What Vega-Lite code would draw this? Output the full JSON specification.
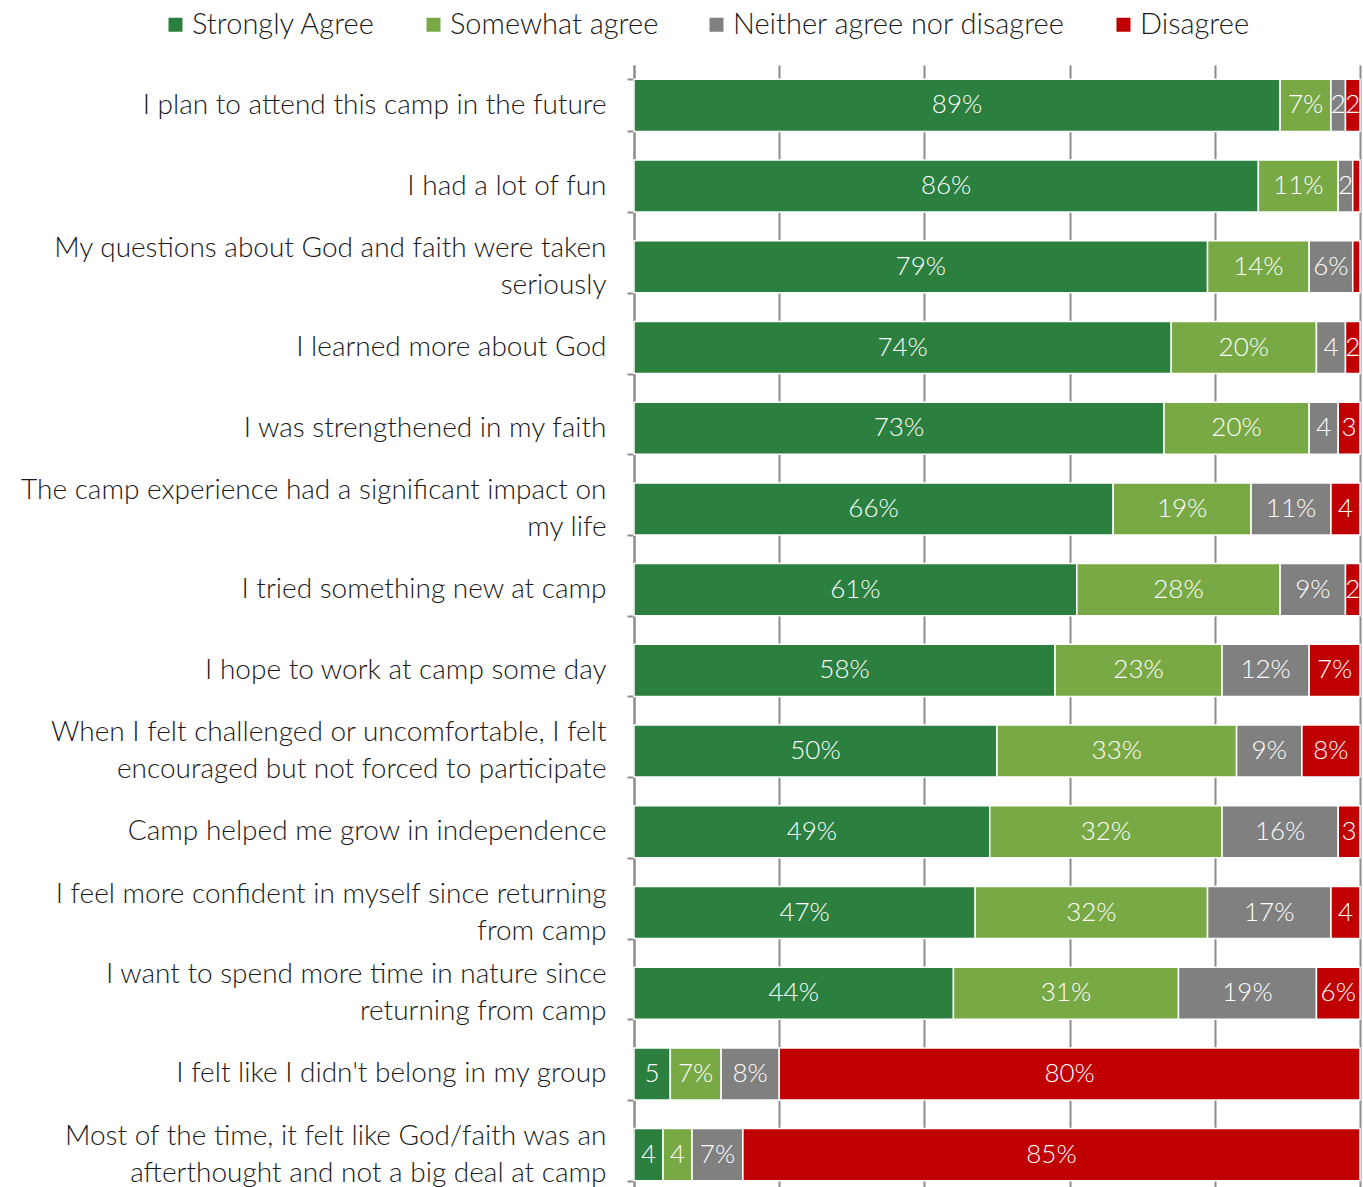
{
  "$schema": "https://vega.github.io/schema/vega-lite/v6.json",
  "width": 726,
  "height": 1130,
  "autosize": {"type": "none"},
  "padding": {"left": 634, "top": 65, "right": 3, "bottom": 0},
  "background": "white",
  "config": {"font": "Lato", "view": {"stroke": null}},
  "data": {
    "values": [
      {"statement": "I plan to attend this camp in the future", "Strongly Agree": 89, "Somewhat agree": 7, "Neither agree nor disagree": 2, "Disagree": 2},
      {"statement": "I had a lot of fun", "Strongly Agree": 86, "Somewhat agree": 11, "Neither agree nor disagree": 2, "Disagree": 1},
      {"statement": "My questions about God and faith were taken\nseriously", "Strongly Agree": 79, "Somewhat agree": 14, "Neither agree nor disagree": 6, "Disagree": 1},
      {"statement": "I learned more about God", "Strongly Agree": 74, "Somewhat agree": 20, "Neither agree nor disagree": 4, "Disagree": 2},
      {"statement": "I was strengthened in my faith", "Strongly Agree": 73, "Somewhat agree": 20, "Neither agree nor disagree": 4, "Disagree": 3},
      {"statement": "The camp experience had a significant impact on\nmy life", "Strongly Agree": 66, "Somewhat agree": 19, "Neither agree nor disagree": 11, "Disagree": 4},
      {"statement": "I tried something new at camp", "Strongly Agree": 61, "Somewhat agree": 28, "Neither agree nor disagree": 9, "Disagree": 2},
      {"statement": "I hope to work at camp some day", "Strongly Agree": 58, "Somewhat agree": 23, "Neither agree nor disagree": 12, "Disagree": 7},
      {"statement": "When I felt challenged or uncomfortable, I felt\nencouraged but not forced to participate", "Strongly Agree": 50, "Somewhat agree": 33, "Neither agree nor disagree": 9, "Disagree": 8},
      {"statement": "Camp helped me grow in independence", "Strongly Agree": 49, "Somewhat agree": 32, "Neither agree nor disagree": 16, "Disagree": 3},
      {"statement": "I feel more confident in myself since returning\nfrom camp", "Strongly Agree": 47, "Somewhat agree": 32, "Neither agree nor disagree": 17, "Disagree": 4},
      {"statement": "I want to spend more time in nature since\nreturning from camp", "Strongly Agree": 44, "Somewhat agree": 31, "Neither agree nor disagree": 19, "Disagree": 6},
      {"statement": "I felt like I didn't belong in my group", "Strongly Agree": 5, "Somewhat agree": 7, "Neither agree nor disagree": 8, "Disagree": 80},
      {"statement": "Most of the time, it felt like God/faith was an\nafterthought and not a big deal at camp", "Strongly Agree": 4, "Somewhat agree": 4, "Neither agree nor disagree": 7, "Disagree": 85}
    ]
  },
  "transform": [
    {"fold": ["Strongly Agree", "Somewhat agree", "Neither agree nor disagree", "Disagree"], "as": ["response", "v"]},
    {"stack": "v", "groupby": ["statement"], "sort": [{"field": "response", "order": "descending"}], "as": ["x0", "x1"]},
    {"calculate": "(datum.x0 + datum.x1) / 2", "as": "mid"},
    {"calculate": "datum.v >= 6 ? datum.v + '%' : (datum.v >= 2 ? '' + datum.v : '')", "as": "lbl"}
  ],
  "encoding": {
    "y": {
      "field": "statement",
      "type": "nominal",
      "sort": null,
      "title": null,
      "scale": {"paddingInner": 0.355, "paddingOuter": 0.1775},
      "axis": {
        "labelExpr": "split(datum.label, '\\n')",
        "labelFontSize": 28,
        "labelFontWeight": 300,
        "labelColor": "#1a1a1a",
        "labelLineHeight": 37,
        "labelOffset": {"condition": {"test": "indexof(datum.label, '\\n') >= 0", "value": -18.5}, "value": 0},
        "labelLimit": 700,
        "labelPadding": 21,
        "tickBand": "extent",
        "tickSize": 7,
        "tickColor": "#8c8c8c",
        "tickWidth": 2,
        "domainColor": "#8c8c8c",
        "domainWidth": 2
      }
    }
  },
  "layer": [
    {
      "mark": {"type": "bar", "stroke": "white", "strokeWidth": 1.5},
      "encoding": {
        "x": {
          "field": "x0",
          "type": "quantitative",
          "scale": {"domain": [0, 100]},
          "title": null,
          "axis": {"labels": false, "ticks": false, "domain": false, "grid": true, "values": [0, 20, 40, 60, 80, 100], "gridColor": "#8c8c8c", "gridWidth": 2}
        },
        "x2": {"field": "x1"},
        "color": {
          "field": "response",
          "type": "nominal",
          "scale": {
            "domain": ["Strongly Agree", "Somewhat agree", "Neither agree nor disagree", "Disagree"],
            "range": ["#2c803f", "#79a945", "#808080", "#c00000"]
          },
          "legend": {
            "orient": "none",
            "legendX": -473,
            "legendY": -55,
            "direction": "horizontal",
            "title": null,
            "symbolType": "square",
            "symbolSize": 196,
            "symbolStrokeWidth": 0,
            "labelFontSize": 29,
            "labelFontWeight": 300,
            "labelLimit": 500,
            "labelColor": "#1a1a1a",
            "labelOffset": 2,
            "columnPadding": 43
          }
        }
      }
    },
    {
      "mark": {"type": "text", "color": "white", "fontSize": 26, "fontWeight": 300},
      "encoding": {
        "x": {"field": "mid", "type": "quantitative"},
        "text": {"field": "lbl"}
      }
    }
  ]
}
